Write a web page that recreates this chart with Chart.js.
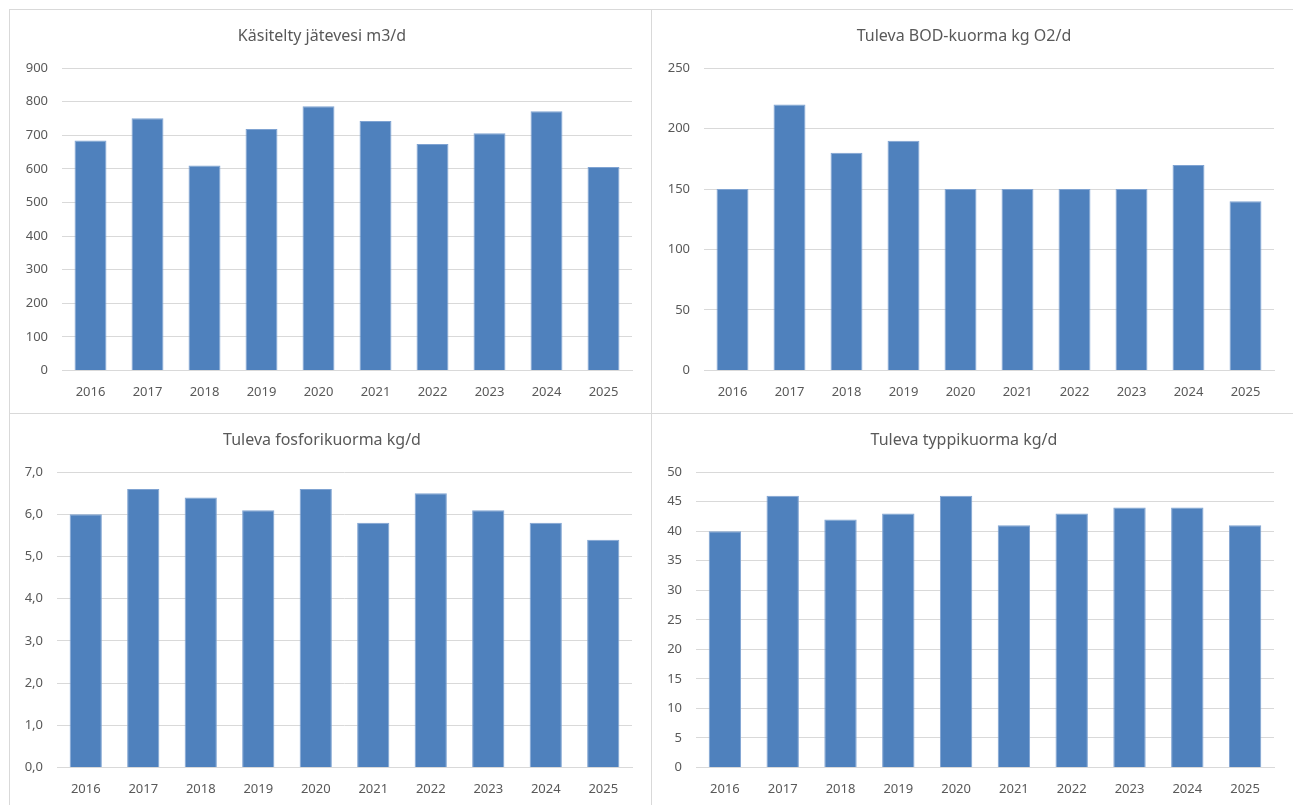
<!DOCTYPE html>
<html>
<head>
<meta charset="utf-8">
<script src="https://cdn.jsdelivr.net/npm/chart.js@4.4.1/dist/chart.umd.min.js"></script>
<style>
    html, body { margin: 0; padding: 0; background: #fff; overflow: hidden; }
    body { width: 1293px; height: 805px; position: relative; }
    .panel { position: absolute; box-sizing: border-box; border: 1px solid #d9d9d9; background: #fff; }
    .panel .inner { position: absolute; left: 0; top: 0; width: 641px; }
    .top .inner { height: 404px; }
    .bottom .inner { height: 397px; }
</style>
</head>
<body>
<div class="panel top" style="left:9px; top:9px; width:643px; height:406px;"><div class="inner"><canvas id="c1"></canvas></div></div>
<div class="panel top" style="left:651px; top:9px; width:660px; height:406px;"><div class="inner"><canvas id="c2"></canvas></div></div>
<div class="panel bottom" style="left:9px; top:413px; width:643px; height:410px;"><div class="inner"><canvas id="c3"></canvas></div></div>
<div class="panel bottom" style="left:651px; top:413px; width:660px; height:410px;"><div class="inner"><canvas id="c4"></canvas></div></div>
<script>
// Data
const years = ['2016', '2017', '2018', '2019', '2020', '2021', '2022', '2023', '2024', '2025'];

const wasteWater = [685, 751, 610, 719, 787, 743, 674, 706, 772, 606];
const bodLoad = [150, 220, 180, 190, 150, 150, 150, 150, 170, 140];
const phosphorusLoad = [6.0, 6.6, 6.4, 6.1, 6.6, 5.8, 6.5, 6.1, 5.8, 5.4];
const nitrogenLoad = [40, 46, 42, 43, 46, 41, 43, 44, 44, 41];

const titles = [
    'Käsitelty jätevesi m3/d',
    'Tuleva BOD-kuorma kg O2/d',
    'Tuleva fosforikuorma kg/d',
    'Tuleva typpikuorma kg/d'
];

const textColor = '#595959';
const gridColor = '#d9d9d9';
const barColor = '#4f81bd';
const fontFamily = "'Noto Sans', 'Open Sans', sans-serif";

function makeChart(canvasId, title, values, yMax, yStep, tickFormat, axisWidth) {
    const ctx = document.getElementById(canvasId).getContext('2d');
    return new Chart(ctx, {
        type: 'bar',
        data: {
            labels: years,
            datasets: [{
                data: values,
                backgroundColor: barColor,
                borderColor: '#7fa3d2',
                borderWidth: 1,
                barPercentage: 0.56,
                categoryPercentage: 1.0
            }]
        },
        options: {
            responsive: true,
            maintainAspectRatio: false,
            animation: false,
            layout: { padding: { left: 2, right: 19, top: 0, bottom: 0 } },
            plugins: {
                legend: { display: false },
                tooltip: { enabled: false },
                title: {
                    display: true,
                    text: title,
                    color: textColor,
                    font: { family: fontFamily, size: 16, weight: 'normal' },
                    padding: { top: 17, bottom: 22 }
                }
            },
            scales: {
                x: {
                    grid: { display: false, drawTicks: false },
                    border: { display: true, color: gridColor, width: 1 },
                    ticks: {
                        color: textColor,
                        font: { family: fontFamily, size: 13 },
                        padding: 14
                    }
                },
                y: {
                    min: 0,
                    max: yMax,
                    grid: { color: gridColor, lineWidth: 1, drawTicks: false },
                    border: { display: false },
                    afterFit: scale => { scale.width = axisWidth; },
                    ticks: {
                        stepSize: yStep,
                        color: textColor,
                        font: { family: fontFamily, size: 13 },
                        padding: 14,
                        callback: tickFormat
                    }
                }
            }
        }
    });
}

const plain = v => String(v);
const comma = v => v.toFixed(1).replace('.', ',');

makeChart('c1', titles[0], wasteWater, 900, 100, plain, 50);
makeChart('c2', titles[1], bodLoad, 250, 50, plain, 50);
makeChart('c3', titles[2], phosphorusLoad, 7, 1, comma, 45);
makeChart('c4', titles[3], nitrogenLoad, 50, 5, plain, 42);
</script>
</body>
</html>
